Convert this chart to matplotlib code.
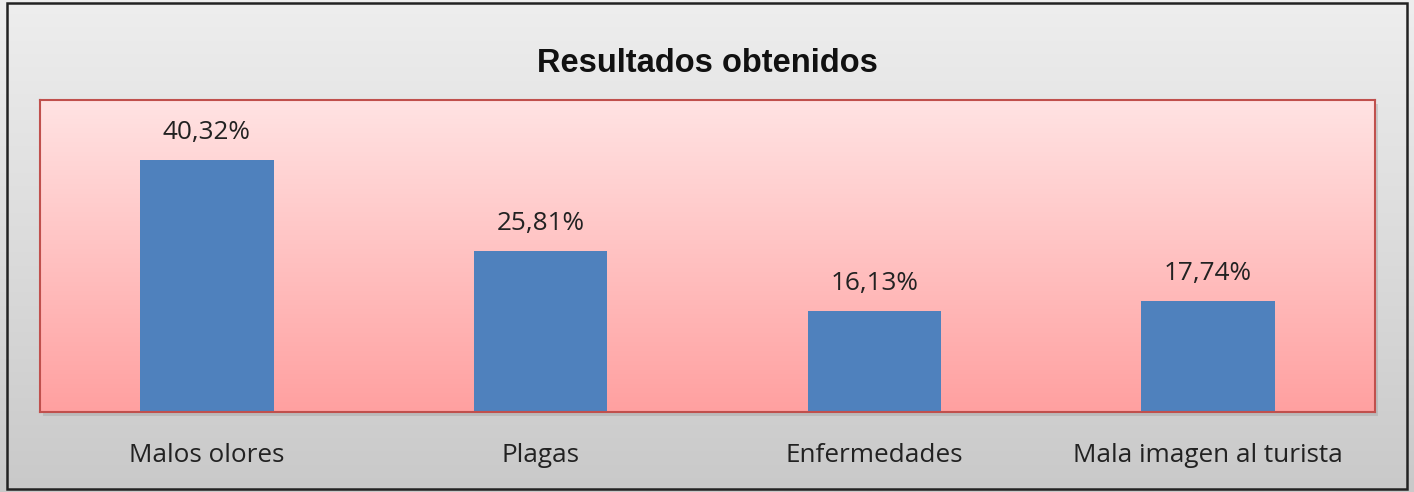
import numpy as np
import matplotlib.pyplot as plt
from matplotlib.colors import LinearSegmentedColormap
from matplotlib.patches import Rectangle

# data
categories = ["Malos olores", "Plagas", "Enfermedades", "Mala imagen al turista"]
values = [40.32, 25.81, 16.13, 17.74]
labels = ["40,32%", "25,81%", "16,13%", "17,74%"]
title = "Resultados obtenidos"

W, H = 1414, 492
fig = plt.figure(figsize=(W / 100, H / 100), dpi=100)

# outer grey gradient background
bg = fig.add_axes([0, 0, 1, 1], zorder=-5)
grey = LinearSegmentedColormap.from_list("grey", ["#c9c9c9", "#eeeeee"])
bg.imshow(np.linspace(0, 1, 256).reshape(-1, 1), aspect="auto", cmap=grey,
          origin="lower", extent=[0, 1, 0, 1])
bg.set_xlim(0, 1)
bg.set_ylim(0, 1)
bg.axis("off")
bg.add_patch(Rectangle((7 / W, 3 / H), 1400 / W, 486 / H, fill=False,
                       edgecolor="#222222", linewidth=1.8))

# plot area
left, right, top, bottom = 40, 1375, 100, 412
ax = fig.add_axes([left / W, 1 - bottom / H, (right - left) / W, (bottom - top) / H])

# soft shadow under the plot area
bg.add_patch(Rectangle((left / W + 0.002, 1 - bottom / H - 0.008), (right - left) / W,
                       (bottom - top) / H, facecolor="#999999", alpha=0.35,
                       edgecolor="none", zorder=0))

pink = LinearSegmentedColormap.from_list("pink", ["#ffa0a0", "#ffe3e3"])
ax.imshow(np.linspace(0, 1, 256).reshape(-1, 1), aspect="auto", cmap=pink,
          origin="lower", extent=[0, 1, 0, 1], transform=ax.transAxes, zorder=0)

x = np.arange(len(categories))
ax.bar(x, values, width=0.4, color="#4f81bd", zorder=2)
ax.set_xlim(-0.5, len(categories) - 0.5)
ax.set_ylim(0, 50)

for xi, v, lab in zip(x, values, labels):
    ax.text(xi, v + 4.4, lab, ha="center", va="center", fontsize=18.8,
            family="Open Sans", color="#222222", zorder=3)

ax.set_yticks([])
ax.set_xticks(x)
ax.set_xticklabels(categories, fontsize=18.8, family="Open Sans", color="#222222")
ax.tick_params(axis="x", length=0, pad=22)
for s in ax.spines.values():
    s.set_edgecolor("#c0504d")
    s.set_linewidth(1.5)

fig.text(0.5, 1 - 63 / H, title, ha="center", va="center", fontsize=23.5,
         fontweight="bold", family="Liberation Sans", color="#111111")

fig.savefig("out.png", dpi=100)
